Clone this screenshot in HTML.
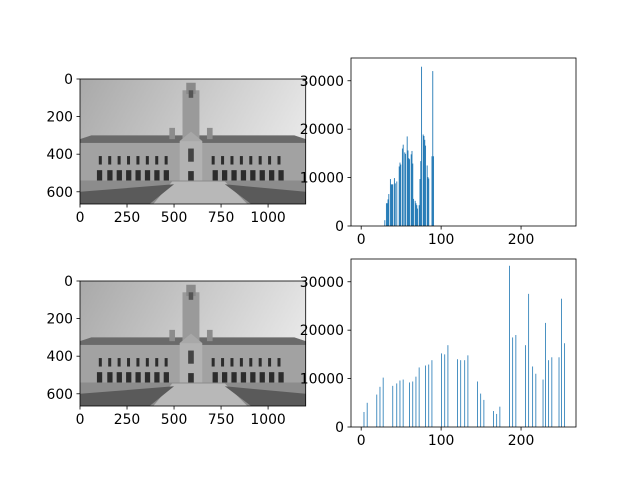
<!DOCTYPE html>
<html><head><meta charset="utf-8"><style>
html,body{margin:0;padding:0;background:#fff}
svg{display:block}
text{font-family:"DejaVu Sans","Liberation Sans",sans-serif;font-size:13.9px;fill:#000}
</style></head><body>
<svg id="fig" width="640" height="480" viewBox="0 0 640 480">
<defs>
<linearGradient id="sky" x1="0" y1="0" x2="1" y2="0.3"><stop offset="0" stop-color="#a9a9a9"/><stop offset="1" stop-color="#e6e6e6"/></linearGradient>
<g id="bldg">
<rect x="0" y="0" width="1200" height="665" fill="url(#sky)"/>
<polygon points="0,320 60,300 1140,300 1200,320 1200,345 0,345" fill="#6a6a6a"/>
<rect x="0" y="340" width="1200" height="205" fill="#a2a2a2"/>
<rect x="545" y="60" width="90" height="270" fill="#9a9a9a"/>
<rect x="565" y="20" width="50" height="60" fill="#8a8a8a"/>
<rect x="578" y="60" width="24" height="40" fill="#555"/>
<rect x="475" y="260" width="30" height="60" fill="#8c8c8c"/>
<rect x="675" y="260" width="30" height="60" fill="#8c8c8c"/>
<polygon points="530,330 590,280 650,330" fill="#a8a8a8"/>
<rect x="530" y="330" width="120" height="210" fill="#b2b2b2"/>
<rect x="575" y="370" width="30" height="70" fill="#444"/>
<rect x="575" y="490" width="30" height="50" fill="#333"/>
<g fill="#2c2c2c">
<rect x="100" y="410" width="16" height="45"/><rect x="150" y="410" width="16" height="45"/><rect x="200" y="410" width="16" height="45"/><rect x="250" y="410" width="16" height="45"/><rect x="300" y="410" width="16" height="45"/><rect x="350" y="410" width="16" height="45"/><rect x="400" y="410" width="16" height="45"/><rect x="450" y="410" width="16" height="45"/>
<rect x="700" y="410" width="16" height="45"/><rect x="750" y="410" width="16" height="45"/><rect x="800" y="410" width="16" height="45"/><rect x="850" y="410" width="16" height="45"/><rect x="900" y="410" width="16" height="45"/><rect x="950" y="410" width="16" height="45"/><rect x="1000" y="410" width="16" height="45"/><rect x="1050" y="410" width="16" height="45"/>
<rect x="90" y="485" width="28" height="55"/><rect x="145" y="485" width="28" height="55"/><rect x="195" y="485" width="28" height="55"/><rect x="245" y="485" width="28" height="55"/><rect x="295" y="485" width="28" height="55"/><rect x="345" y="485" width="28" height="55"/><rect x="395" y="485" width="28" height="55"/><rect x="445" y="485" width="28" height="55"/>
<rect x="705" y="485" width="28" height="55"/><rect x="755" y="485" width="28" height="55"/><rect x="805" y="485" width="28" height="55"/><rect x="855" y="485" width="28" height="55"/><rect x="905" y="485" width="28" height="55"/><rect x="955" y="485" width="28" height="55"/><rect x="1005" y="485" width="28" height="55"/><rect x="1055" y="485" width="28" height="55"/>
</g>
<rect x="0" y="540" width="1200" height="125" fill="#8c8c8c"/>
<polygon points="490,545 770,545 890,665 390,665" fill="#b8b8b8"/>
<polygon points="0,600 500,560 370,665 0,665" fill="#5a5a5a"/>
<polygon points="1200,600 770,560 910,665 1200,665" fill="#5a5a5a"/>
</g>
</defs>
<g id="charts"></g>
</svg>
<script>
// top histogram (original image)
const topLevels=[29,31,32,33,34,36,37,38,39,41,42,44,47,48,49,51,52,54,55,57,58,59,60,62,63,64,65,67,68,69,70,72,73,74,75,77,78,79,80,82,83,84,88,89,90];
const topCounts=[1200,4700,4700,5500,6600,9700,8600,8600,8600,9900,8800,9200,12300,13100,12700,16000,16800,15200,14900,18500,15600,14000,13800,14800,15500,12900,5600,5200,4700,4300,3600,4300,9700,13400,32900,18900,18600,17800,16600,12500,10100,9800,14400,32000,14400];
// bottom histogram (equalized image)
const eqLevels=[3,7,19,23,27,39,44,48,52,60,64,68,72,80,84,88,100,104,108,120,124,129,133,145,149,153,165,169,173,185,189,193,205,209,214,218,227,230,234,238,247,250,254];
const eqCounts=[3100,5000,6700,8300,10200,8500,9000,9600,9800,9200,9400,10400,12300,12700,12900,13800,15200,15000,16900,14000,13800,13800,14800,9400,6900,5600,3300,2700,4200,33300,18500,19000,16900,27500,12500,11000,9800,21500,13800,14400,14400,26500,17300];
const histXTicks=[0,100,200];
const histYTicks=[0,10000,20000,30000];
const imgXTicks=[0,250,500,750,1000];
const imgYTicks=[0,200,400,600];

const NS='http://www.w3.org/2000/svg';
const root=document.getElementById('charts');
function mk(tag,attrs,parent){const e=document.createElementNS(NS,tag);for(const k in attrs)e.setAttribute(k,attrs[k]);(parent||root).appendChild(e);return e;}

function imagePanel(top,name){
  const L=80,R=305.7,T=top,B=top+125;
  const g=mk('g',{});
  
  
  const sx=v=>L+(v)*(R-L)/1200, sy=v=>T+v*(B-T)/665;
  const sv=mk('svg',{x:L,y:T,width:R-L,height:B-T,viewBox:'0 0 1200 665',preserveAspectRatio:'none'},g);
  mk('use',{href:'#bldg'},sv);
  mk('rect',{x:L,y:T,width:R-L,height:B-T,fill:'none',stroke:'#000','stroke-width':0.8},g);
  imgXTicks.forEach(v=>{const x=sx(v);mk('line',{x1:x,x2:x,y1:B,y2:B+3.5,stroke:'#000','stroke-width':0.8},g);
    const t=mk('text',{x:x,y:B+18,'text-anchor':'middle'},g);t.textContent=v;
    });
  imgYTicks.forEach(v=>{const y=sy(v);mk('line',{x1:L-3.5,x2:L,y1:y,y2:y,stroke:'#000','stroke-width':0.8},g);
    const t=mk('text',{x:L-7,y:y+5,'text-anchor':'end'},g);t.textContent=v;
    });
}
function histPanel(top,levels,counts,name,bw){
  const L=351,R=576,T=top,B=top+168;
  const xmin=-12.75,xmax=268.75,ymax=34700;
  const sx=v=>L+(v-xmin)*(R-L)/(xmax-xmin), sy=v=>B-v*(B-T)/ymax;
  const g=mk('g',{});
  
  
  levels.forEach((lv,i)=>{const x0=sx(lv),x1=sx(lv+bw);
    const r=mk('rect',{x:x0,y:sy(counts[i]),width:x1-x0,height:B-sy(counts[i]),fill:'#1f77b4'},g);
    
    });
  mk('rect',{x:L,y:T,width:R-L,height:B-T,fill:'none',stroke:'#000','stroke-width':0.8},g);
  histXTicks.forEach(v=>{const x=sx(v);mk('line',{x1:x,x2:x,y1:B,y2:B+3.5,stroke:'#000','stroke-width':0.8},g);
    const t=mk('text',{x:x,y:B+18,'text-anchor':'middle'},g);t.textContent=v;
    });
  histYTicks.forEach(v=>{const y=sy(v);mk('line',{x1:L-3.5,x2:L,y1:y,y2:y,stroke:'#000','stroke-width':0.8},g);
    const t=mk('text',{x:L-7,y:y+5,'text-anchor':'end'},g);t.textContent=v;
    });
}
imagePanel(79,'original-image');
imagePanel(281,'equalized-image');
histPanel(58,topLevels,topCounts,'original-histogram',1.1);
histPanel(259,eqLevels,eqCounts,'equalized-histogram',1.0);
</script>
</body></html>
